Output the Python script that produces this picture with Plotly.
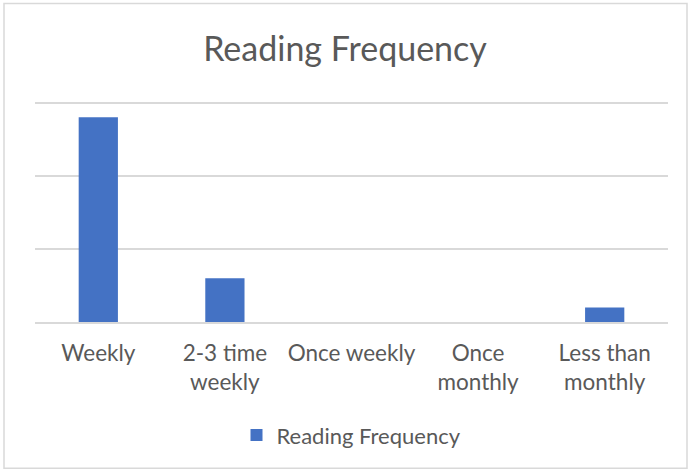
import plotly.graph_objects as go

categories = ["Weekly", "2-3 time<br>weekly", "Once weekly", "Once<br>monthly", "Less than<br>monthly"]
counts = [14, 3, 0, 0, 1]
series_name = "Reading Frequency"

W, H = 690, 471
L, R, T, B = 35, 22, 88.4, 149
ph = H - T - B
pw = W - L - R
base = H - B

fig = go.Figure()
fig.add_trace(go.Bar(
    x=categories,
    y=counts,
    name=series_name,
    marker=dict(color="#4472C4", line=dict(width=0)),
    showlegend=True,
))

font_family = "Lato, 'Open Sans', sans-serif"

fig.update_layout(
    width=W,
    height=H,
    margin=dict(l=L, r=R, t=T, b=B),
    paper_bgcolor="white",
    plot_bgcolor="white",
    bargap=0.69,
    title=dict(
        text="Reading Frequency",
        x=0.5,
        xanchor="center",
        y=1 - 49 / H,
        yanchor="middle",
        font=dict(family=font_family, size=34, color="#595959"),
    ),
    xaxis=dict(
        showgrid=False,
        showline=True,
        linecolor="#D9D9D9",
        linewidth=1.5,
        ticks="",
        tickfont=dict(family=font_family, size=22.5, color="#595959"),
        ticklabelstandoff=10,
    ),
    yaxis=dict(
        range=[0, 16],
        tickvals=[5, 10, 15],
        showticklabels=False,
        showgrid=True,
        gridcolor="#D9D9D9",
        gridwidth=1.5,
        zeroline=False,
        fixedrange=True,
    ),
    legend=dict(
        orientation="h",
        x=0.5,
        xanchor="center",
        y=(base - 435) / ph,
        yanchor="middle",
        font=dict(family=font_family, size=22, color="#595959"),
    ),
    shapes=[dict(
        type="rect",
        xref="paper", yref="paper",
        x0=(4 - L) / pw, x1=(687 - L) / pw,
        y0=(base - 468) / ph, y1=(base - 4) / ph,
        line=dict(color="#D9D9D9", width=1.5),
        layer="below",
    )],
)

fig.write_html("out.html", config={"displayModeBar": False},
               post_script="document.body.style.margin='0';")
